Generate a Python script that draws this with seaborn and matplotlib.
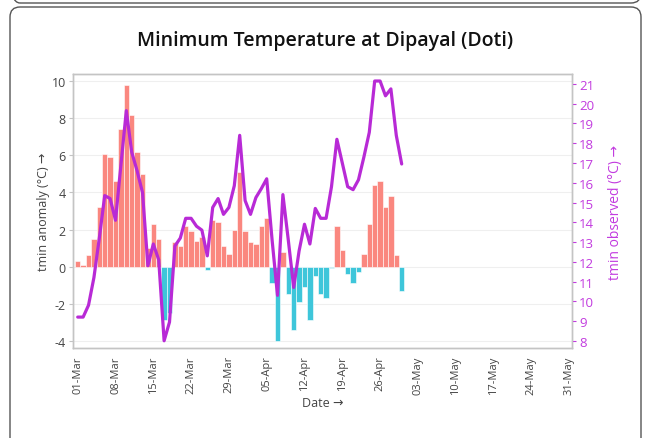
import numpy as np
import pandas as pd
import matplotlib
matplotlib.use("Agg")
import matplotlib.pyplot as plt
import seaborn as sns
from matplotlib.patches import FancyBboxPatch
from matplotlib.transforms import IdentityTransform

# ---- data ----
anomaly = [0.3, 0.1, 0.6, 1.5, 3.2, 6.1, 5.9, 4.6, 7.4, 9.8,
           8.2, 6.2, 5.0, 1.0, 2.3, 1.5, -2.9, -2.5, 1.3, 1.1,
           2.2, 1.9, 1.4, 1.6, -0.2, 2.5, 2.4, 1.1, 0.7, 2.0,
           5.1, 1.9, 1.3, 1.2, 2.2, 2.6, -0.9, -4.0, 0.8, -1.5,
           -3.4, -1.9, -1.1, -2.9, -0.5, -1.5, -1.7, -0.1, 2.2, 0.9,
           -0.4, -0.9, -0.3, 0.7, 2.3, 4.4, 4.6, 3.2, 3.8, 0.6, -1.3]
observed = [9.2, 9.2, 9.8, 11.2, 13.2, 15.35, 15.2, 14.1, 16.9, 19.65,
            17.55, 16.6, 15.5, 11.8, 12.9, 12.1, 8.0, 8.95, 12.8, 13.2,
            14.2, 14.2, 13.8, 13.6, 12.3, 14.75, 15.2, 14.4, 14.75, 15.85,
            18.4, 15.1, 14.4, 15.25, 15.7, 16.2, 13.1, 10.3, 15.4, 13.1,
            10.7, 12.55, 13.9, 12.9, 14.7, 14.2, 14.2, 15.8, 18.2, 17.0,
            15.8, 15.65, 16.15, 17.3, 18.55, 21.15, 21.15, 20.4, 20.75, 18.4, 16.95]
dates = pd.date_range("2024-03-01", "2024-04-30", freq="D")
tick_labels = ["01-Mar", "08-Mar", "15-Mar", "22-Mar", "29-Mar", "05-Apr", "12-Apr",
               "19-Apr", "26-Apr", "03-May", "10-May", "17-May", "24-May", "31-May"]
title = "Minimum Temperature at Dipayal (Doti)"

start = pd.Timestamp("2024-03-01")
df = pd.DataFrame({"date": dates, "anomaly": anomaly, "observed": observed})
df["day"] = (df["date"] - start).dt.days
df["sign"] = np.where(df["anomaly"] >= 0, "pos", "neg")
tick_days = [(pd.Timestamp(f"2024-{lab.split('-')[1]}-{lab.split('-')[0]}") - start).days
             for lab in tick_labels]

POS = "#FA877F"
NEG = "#3EC6DA"
LINE = "#B82AD6"
RTEXT = "#C23BDF"
GRAY = "#444444"
SPINE = "#C4C4C4"

sns.set_theme(style="white")
plt.rcParams["font.family"] = ["Open Sans", "DejaVu Sans"]

W, H = 651, 439
fig = plt.figure(figsize=(W / 100, H / 100), dpi=100)

# outer boxes
for (x0, y0, w, h) in [(10, -30, 631, 461), (10, 435, 631, 40)]:
    p = FancyBboxPatch((x0, y0), w, h, boxstyle="round,pad=0,rounding_size=10",
                       transform=IdentityTransform(), facecolor="none",
                       edgecolor="#555555", linewidth=1.0, zorder=-5)
    fig.add_artist(p)

L, R, T, B = 72.7, 572.3, 74.7, 349.3
ax = fig.add_axes([L / W, 1 - B / H, (R - L) / W, (B - T) / H])
ax.set_facecolor("none")

sns.barplot(data=df, x="day", y="anomaly", hue="sign", palette={"pos": POS, "neg": NEG},
            native_scale=True, width=1.0, dodge=False, errorbar=None, saturation=1,
            edgecolor="white", linewidth=0.4, legend=False, ax=ax)

ax2 = ax.twinx()
sns.lineplot(data=df, x="day", y="observed", color=LINE, linewidth=2.3, ax=ax2)

ax.set_xlim(-0.93, 91.6)
ax.set_ylim(-4.41, 10.41)
ax2.set_ylim(7.62, 21.52)

ax.set_xticks(tick_days)
ax.set_xticklabels(tick_labels, rotation=90, fontsize=8, color=GRAY)
ax.set_yticks(range(-4, 11, 2))
ax.set_yticklabels([str(v) for v in range(-4, 11, 2)], fontsize=9, color=GRAY)
ax2.set_yticks(range(8, 22))
ax2.set_yticklabels([str(v) for v in range(8, 22)], fontsize=9.5, color=RTEXT)

ax.tick_params(axis="x", length=3, width=0.8, color=SPINE, pad=2)
ax.tick_params(axis="y", length=3, width=0.8, color=SPINE, pad=2)
ax2.tick_params(axis="y", length=3, width=0.8, color=RTEXT, pad=2)

ax.yaxis.grid(True, color="#EFEFEF", linewidth=0.8)
ax.set_axisbelow(True)
for a in (ax, ax2):
    for s in a.spines.values():
        s.set_color(SPINE)
        s.set_linewidth(1.0)

ax.set_xlabel("Date \u2192", fontsize=9, color=GRAY, labelpad=2)
ax.set_ylabel("tmin anomaly (\u00b0C) \u2192", fontsize=9, color=GRAY, labelpad=1)
ax2.set_ylabel("tmin observed (\u00b0C) \u2192", fontsize=10, color=RTEXT, labelpad=10)

fig.text(0.5, 1 - 41 / H, title, ha="center", va="center", fontsize=14,
         fontweight="semibold", color="#111111")

fig.savefig("out.png", dpi=100)
